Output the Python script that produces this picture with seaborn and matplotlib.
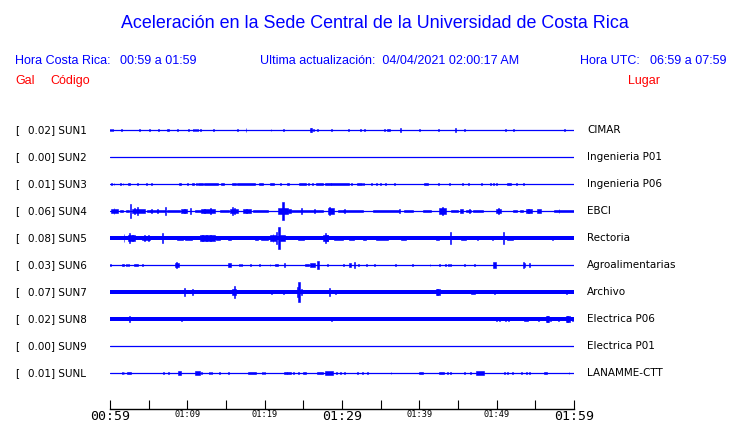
import matplotlib
matplotlib.use("Agg")
import matplotlib.pyplot as plt
import seaborn as sns
import pandas as pd

# ---------------- data ----------------
stations = ["SUN1", "SUN2", "SUN3", "SUN4", "SUN5", "SUN6", "SUN7", "SUN8", "SUN9", "SUNL"]
places = ["CIMAR", "Ingenieria P01", "Ingenieria P06", "EBCI", "Rectoria",
          "Agroalimentarias", "Archivo", "Electrica P06", "Electrica P01", "LANAMME-CTT"]
peaks = [0.02, 0.00, 0.01, 0.06, 0.08, 0.03, 0.07, 0.02, 0.00, 0.01]   # Gal
noise = [0.0, 0.0, 0.0, 0.0, 0.013, 0.0, 0.012, 0.012, 0.0, 0.0]       # Gal, half band

tick_minutes = [0, 5, 10, 15, 20, 25, 30, 35, 40, 45, 50, 55, 60]
tick_labels = ["00:59", "", "01:09", "", "01:19", "", "01:29", "", "01:39", "", "01:49", "", "01:59"]
big_labels = ["00:59", "01:29", "01:59"]

# events: time (min after 00:59), half amplitude (Gal), duration (min)
sun1_t = [0.09, 0.30, 1.51, 3.87, 5.16, 6.24, 7.48, 8.73, 10.11, 10.75, 11.05, 11.31, 11.70, 13.42,
          15.48, 16.47, 17.59, 20.82, 22.45, 25.89, 26.02, 26.32, 26.80, 28.69, 30.88, 32.39, 32.95,
          35.48, 36.00, 37.55, 40.04, 42.49, 44.65, 45.81, 51.18, 52.17, 58.75]
sun1_a = [0.008, 0.008, 0.008, 0.008, 0.005, 0.008, 0.010, 0.005, 0.005, 0.005, 0.005, 0.005, 0.008, 0.008,
          0.003, 0.005, 0.018, 0.005, 0.005, 0.013, 0.015, 0.008, 0.008, 0.008, 0.005, 0.005, 0.005,
          0.005, 0.010, 0.015, 0.005, 0.005, 0.018, 0.008, 0.005, 0.005, 0.005]
sun1_d = [0.12] * 6 + [0.30] + [0.12] * 21 + [0.35] + [0.12] * 8

sun3_t = [0.22, 0.52, 1.38, 1.68, 2.45, 3.53, 4.69, 5.33, 7.78, 9.03, 10.02, 10.71, 11.14, 11.74,
          13.08, 14.54, 16.09, 17.55, 19.48, 20.99, 22.06, 23.01, 24.90, 25.68, 26.19, 27.05, 28.17,
          29.76, 31.27, 32.26, 32.82, 33.76, 34.49, 34.97, 35.61, 36.77, 40.86, 42.49, 43.91, 45.59,
          46.32, 48.00, 49.25, 49.59, 50.02, 51.61, 52.56, 53.46]
sun3_a = [0.005, 0.005, 0.005, 0.005, 0.008, 0.005, 0.005, 0.005, 0.003, 0.005, 0.005, 0.005, 0.005, 0.008,
          0.006, 0.005, 0.005, 0.008, 0.008, 0.008, 0.005, 0.008, 0.008, 0.005, 0.005, 0.008, 0.005,
          0.008, 0.005, 0.008, 0.005, 0.005, 0.005, 0.005, 0.005, 0.005, 0.005, 0.005, 0.005, 0.005,
          0.005, 0.005, 0.005, 0.005, 0.005, 0.008, 0.005, 0.005]
sun3_d = [0.12, 0.12, 0.12, 0.12, 0.35, 0.12, 0.12, 0.12, 0.12, 0.25, 0.12, 0.20, 0.12, 0.70,
          1.80, 0.30, 0.50, 2.30, 0.55, 0.55, 0.12, 0.25, 0.95, 0.12, 0.12, 0.90, 0.85,
          2.40, 0.12, 0.60, 0.12, 0.12, 0.12, 0.12, 0.12, 0.12, 0.45, 0.12, 0.12, 0.12,
          0.12, 0.12, 0.12, 0.12, 0.12, 0.45, 0.12, 0.12]

sun4_t = [0.60, 0.52, 1.51, 2.26, 2.62, 3.66, 3.14, 3.53, 4.95, 6.13, 5.38, 6.15, 7.18, 8.17, 9.59, 9.59,
          10.45, 11.40, 12.69, 12.26, 13.03, 14.77, 16.02, 15.83, 16.13, 17.74, 17.63, 19.46, 22.37,
          22.37, 23.23, 25.48, 24.73, 26.45, 28.60, 28.43, 29.78, 31.40, 30.32, 35.70, 37.42, 38.60,
          40.97, 43.01, 43.01, 44.52, 45.44, 46.34, 46.45, 47.53, 50.22, 50.19, 52.43, 53.25, 54.19,
          54.06, 55.48, 58.71, 58.06]
sun4_a = [0.013, 0.020, 0.008, 0.010, 0.053, 0.015, 0.025, 0.030, 0.008, 0.010, 0.015, 0.013, 0.030, 0.010,
          0.013, 0.018, 0.020, 0.008, 0.013, 0.015, 0.025, 0.010, 0.018, 0.030, 0.025, 0.013, 0.018,
          0.008, 0.025, 0.063, 0.015, 0.010, 0.020, 0.018, 0.020, 0.030, 0.010, 0.010, 0.018, 0.010,
          0.013, 0.010, 0.010, 0.020, 0.030, 0.010, 0.013, 0.010, 0.018, 0.010, 0.018, 0.025, 0.010,
          0.010, 0.013, 0.018, 0.013, 0.010, 0.015]
sun4_d = [0.95, 0.12, 0.43, 0.43, 0.12, 1.72, 0.12, 0.12, 0.43, 1.94, 0.12, 0.12, 0.12, 1.72, 0.86, 0.12,
          0.12, 0.86, 1.72, 0.12, 0.12, 1.16, 1.08, 0.12, 0.12, 1.08, 0.12, 1.94, 1.29,
          0.15, 0.43, 4.09, 0.12, 0.12, 0.86, 0.12, 0.65, 2.58, 0.12, 3.44, 0.12, 1.08,
          1.08, 0.86, 0.12, 0.86, 0.30, 0.65, 0.12, 1.29, 0.65, 0.12, 0.52, 0.43, 0.86,
          0.12, 0.43, 2.58, 0.12]

sun5_t = [1.81, 2.75, 2.58, 2.88, 4.62, 4.43, 5.03, 6.75, 9.03, 10.11, 12.58, 11.91, 12.47, 13.03,
          13.98, 15.44, 18.92, 20.00, 21.08, 21.08, 21.51, 21.85, 22.30, 24.69, 27.85, 27.83, 28.09,
          29.57, 31.29, 32.90, 35.16, 37.96, 42.37, 44.09, 45.70, 47.53, 49.46, 50.88, 51.78, 57.20]
sun5_a = [0.030, 0.020, 0.035, 0.025, 0.018, 0.020, 0.020, 0.038, 0.015, 0.015, 0.020, 0.025, 0.023, 0.023,
          0.018, 0.018, 0.015, 0.018, 0.025, 0.030, 0.045, 0.080, 0.025, 0.018, 0.020, 0.035, 0.025,
          0.018, 0.015, 0.015, 0.015, 0.015, 0.015, 0.043, 0.015, 0.015, 0.015, 0.043, 0.015, 0.015]
sun5_d = [0.12, 0.95, 0.12, 0.12, 1.08, 0.12, 0.12, 0.12, 0.86, 0.86, 1.94, 0.12, 0.12, 0.12,
          0.43, 0.34, 0.43, 0.86, 0.86, 0.12, 0.12, 0.15, 0.56, 0.77, 0.65, 0.12, 0.12,
          1.08, 0.65, 0.43, 1.51, 0.65, 0.43, 0.12, 0.65, 0.12, 0.12, 0.12, 0.77, 0.12]

sun6_t = [0.05, 1.72, 2.15, 2.45, 3.31, 4.22, 6.75, 8.65, 8.60, 15.48, 16.69, 16.99, 18.11, 19.35,
          20.69, 21.51, 22.58, 25.42, 26.13, 26.88, 28.17, 30.15, 31.03, 31.61, 32.13, 33.12, 34.19,
          35.83, 36.90, 39.14, 41.38, 42.62, 43.40, 43.83, 44.09, 45.89, 47.18, 49.72, 53.42, 53.63, 54.19]
sun6_a = [0.008, 0.010, 0.008, 0.005, 0.010, 0.010, 0.003, 0.015, 0.020, 0.018, 0.010, 0.010, 0.005, 0.010,
          0.005, 0.010, 0.013, 0.010, 0.015, 0.030, 0.005, 0.010, 0.015, 0.025, 0.008, 0.010, 0.008,
          0.003, 0.008, 0.005, 0.008, 0.008, 0.008, 0.008, 0.005, 0.008, 0.008, 0.020, 0.025, 0.015, 0.015]
sun6_d = [0.10, 0.26, 0.12, 0.12, 0.52, 0.12, 0.12, 0.52, 0.12, 0.43, 0.12, 0.12, 0.12, 0.12,
          0.12, 0.43, 0.12, 0.52, 0.65, 0.25, 0.12, 0.12, 0.30, 0.12, 0.12, 0.12, 0.12,
          0.12, 0.12, 0.12, 0.12, 0.12, 0.12, 0.12, 0.12, 0.12, 0.12, 0.34, 0.15, 0.12, 0.12]

sun7_t = [9.68, 10.62, 16.04, 16.04, 20.86, 22.45, 24.22, 24.43, 24.73, 28.39, 29.16, 42.43, 42.37,
          46.92, 49.68, 59.01]
sun7_a = [0.030, 0.025, 0.025, 0.043, 0.018, 0.018, 0.038, 0.075, 0.020, 0.030, 0.018, 0.020, 0.025,
          0.018, 0.015, 0.018]
sun7_d = [0.12, 0.12, 0.43, 0.12, 0.12, 0.12, 0.12, 0.15, 0.12, 0.12, 0.12, 0.56, 0.12,
          0.52, 0.12, 0.12]

sun8_t = [2.49, 9.25, 28.60, 49.94, 50.37, 51.14, 51.53, 53.81, 55.40, 56.56, 56.56, 56.99, 57.98,
          59.20, 59.14, 59.78]
sun8_a = [0.020, 0.015, 0.015, 0.015, 0.015, 0.015, 0.015, 0.018, 0.018, 0.020, 0.025, 0.018, 0.015,
          0.020, 0.023, 0.015]
sun8_d = [0.12, 0.12, 0.12, 0.12, 0.12, 0.12, 0.12, 0.52, 0.12, 0.43, 0.12, 0.12, 0.12,
          0.56, 0.12, 0.12]

sunl_t = [1.59, 1.81, 2.41, 6.88, 7.61, 9.03, 11.29, 11.83, 12.86, 13.12, 14.11, 15.35, 18.39, 19.66,
          20.00, 22.67, 23.18, 23.78, 24.43, 25.14, 27.16, 28.28, 29.25, 29.76, 30.32, 31.96, 32.60,
          33.33, 36.34, 40.22, 42.84, 43.66, 44.00, 45.89, 46.67, 47.85, 50.97, 51.40, 52.09, 53.20,
          53.89, 54.24, 56.30, 59.35]
sunl_a = [0.008, 0.008, 0.010, 0.005, 0.005, 0.013, 0.013, 0.008, 0.008, 0.005, 0.008, 0.010, 0.010, 0.008,
          0.008, 0.010, 0.010, 0.010, 0.008, 0.010, 0.010, 0.013, 0.008, 0.008, 0.008, 0.005, 0.008,
          0.005, 0.008, 0.010, 0.010, 0.008, 0.008, 0.005, 0.008, 0.013, 0.005, 0.005, 0.005, 0.008,
          0.005, 0.005, 0.010, 0.010]
sunl_d = [0.12, 0.12, 0.52, 0.12, 0.12, 0.43, 0.65, 0.12, 0.12, 0.12, 0.12, 0.12, 1.08, 0.12,
          0.12, 0.34, 0.52, 0.12, 0.12, 0.47, 0.73, 1.08, 0.12, 0.12, 0.12, 0.12, 0.12,
          0.12, 0.12, 0.43, 0.60, 0.12, 0.12, 0.12, 0.12, 1.08, 0.12, 0.12, 0.12, 0.12,
          0.12, 0.12, 0.34, 0.12]

events = {
    "SUN1": (sun1_t, sun1_a, sun1_d),
    "SUN3": (sun3_t, sun3_a, sun3_d),
    "SUN4": (sun4_t, sun4_a, sun4_d),
    "SUN5": (sun5_t, sun5_a, sun5_d),
    "SUN6": (sun6_t, sun6_a, sun6_d),
    "SUN7": (sun7_t, sun7_a, sun7_d),
    "SUN8": (sun8_t, sun8_a, sun8_d),
    "SUNL": (sunl_t, sunl_a, sunl_d),
}

GAL_PER_ROW = 0.2
BLUE = "#0000ff"
RED = "#ff0000"

# ---------------- figure ----------------
sns.set_theme(style="white")
plt.rcParams["font.family"] = ["DejaVu Sans"]
W, H = 740, 423
fig = plt.figure(figsize=(W / 100, H / 100), dpi=100)
fig.patch.set_facecolor("white")

ax = fig.add_axes([110 / W, 1 - 409 / H, 464 / W, (409 - 115) / H])
ax.set_facecolor("white")

rows = list(range(len(stations)))
base = pd.DataFrame({
    "station": stations * 2,
    "t": [0] * len(stations) + [60] * len(stations),
    "row": rows * 2,
})
sns.lineplot(data=base, x="t", y="row", units="station", estimator=None,
             color=BLUE, linewidth=0.9, legend=False, ax=ax)

for i, st in enumerate(stations):
    if noise[i] > 0:
        h = noise[i] / GAL_PER_ROW
        ax.fill_between([0, 60], [i - h, i - h], [i + h, i + h], color=BLUE, linewidth=0)
    if st in events:
        t, a, d = events[st]
        hh = [v / GAL_PER_ROW for v in a]
        ax.bar(t, [2 * v for v in hh], bottom=[i - v for v in hh], width=d,
               color=BLUE, edgecolor=BLUE, linewidth=0.4, align="center")

ax.set_xlim(0, 60)
ax.set_ylim((409 - 130) / 27, -15 / 27)
ax.set_xlabel("")
ax.set_ylabel("")
ax.set_yticks([])
for s in ["top", "left", "right"]:
    ax.spines[s].set_visible(False)
ax.spines["bottom"].set_color("black")
ax.spines["bottom"].set_linewidth(1.0)
ax.set_xticks(tick_minutes)
ax.set_xticklabels(tick_labels)
ax.tick_params(axis="x", direction="in", length=6.5, width=0.8, color="black",
               pad=1, bottom=True)
for lab in ax.get_xticklabels():
    lab.set_family("DejaVu Sans Mono")
    lab.set_color("black")
    if lab.get_text() in big_labels:
        lab.set_fontsize(9.5)
    else:
        lab.set_fontsize(6.2)


def ftext(x, y, s, **kw):
    fig.text(x / W, 1 - y / H, s, va="center", **kw)


head = dict(family=["Liberation Sans", "DejaVu Sans"], color=BLUE)
ftext(375, 23, "Aceleración en la Sede Central de la Universidad de Costa Rica",
      ha="center", fontsize=12.9, **head)
ftext(15, 61, "Hora Costa Rica:", fontsize=9, **head)
ftext(120, 61, "00:59 a 01:59", fontsize=9, **head)
ftext(260, 61, "Ultima actualización:  04/04/2021 02:00:17 AM", fontsize=9, **head)
ftext(580, 61, "Hora UTC:", fontsize=9, **head)
ftext(650, 61, "06:59 a 07:59", fontsize=9, **head)

red = dict(family=["Liberation Sans", "DejaVu Sans"], color=RED, fontsize=9)
ftext(15, 81, "Gal", **red)
ftext(50, 81, "Código", **red)
ftext(628, 81, "Lugar", **red)

for i, st in enumerate(stations):
    y = 130 + 27 * i
    ftext(15, y, "[", fontsize=7.5, color="black")
    ftext(28, y, f"{peaks[i]:.2f}] {st}", fontsize=7.5, color="black")
    ftext(587, y, places[i], fontsize=7.5, color="black")

fig.savefig("out.png", dpi=100, facecolor="white")
